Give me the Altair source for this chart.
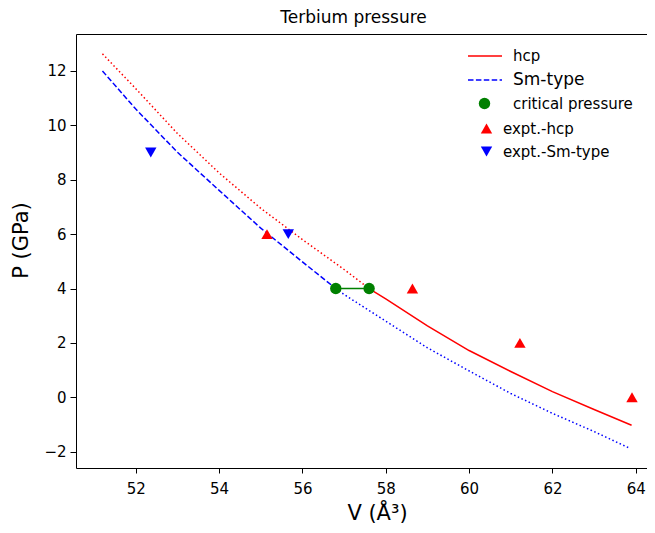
import altair as alt
import pandas as pd

# ---- data ----
hcp_v = [51.2, 52.0, 53.0, 54.0, 55.0, 56.0, 57.0, 57.6, 58.0, 59.0, 60.0, 61.0, 62.0, 63.0, 63.9]
hcp_p = [12.63, 11.35, 9.70, 8.25, 6.95, 5.80, 4.70, 4.00, 3.62, 2.63, 1.72, 0.95, 0.21, -0.45, -1.03]
hcp_split = 57.6  # dotted below this volume, solid above

sm_v = [51.2, 52.0, 53.0, 54.0, 55.0, 56.0, 56.8, 57.0, 58.0, 59.0, 60.0, 61.0, 62.0, 63.0, 63.85]
sm_p = [12.0, 10.6, 9.01, 7.61, 6.22, 4.98, 4.00, 3.78, 2.80, 1.82, 0.97, 0.14, -0.59, -1.26, -1.87]
sm_split = 56.8  # dashed below this volume, dotted above

crit_v = [56.8, 57.6]
crit_p = [4.0, 4.0]

expt_hcp_v = [55.15, 58.64, 61.22, 63.91]
expt_hcp_p = [6.0, 4.0, 2.0, 0.0]

expt_sm_v = [52.36, 55.66]
expt_sm_p = [9.0, 6.0]

x_ticks = [52, 54, 56, 58, 60, 62, 64]
y_ticks = [-2, 0, 2, 4, 6, 8, 10, 12]

RED, BLUE, GREEN = "#ff0000", "#0000ff", "#008000"
FONT = "DejaVu Sans"

# ---- tables ----
hcp = pd.DataFrame({"V": hcp_v, "P": hcp_p, "series": "hcp"})
sm = pd.DataFrame({"V": sm_v, "P": sm_p, "series": "Sm-type"})
crit = pd.DataFrame({"V": crit_v, "P": crit_p, "series": "critical pressure"})
e_hcp = pd.DataFrame({"V": expt_hcp_v, "P": expt_hcp_p, "series": "expt.-hcp"})
e_sm = pd.DataFrame({"V": expt_sm_v, "P": expt_sm_p, "series": "expt.-Sm-type"})

XDOM = [50.565, 64.27]
xs = alt.Scale(domain=XDOM, nice=False, zero=False)
ys = alt.Scale(domain=[-2.6, 13.36], nice=False, zero=False)

x_bottom = alt.X("V:Q", scale=xs, axis=alt.Axis(
    orient="bottom", values=x_ticks, title="V (Å³)", grid=False,
    tickSize=5, labelFontSize=15, labelPadding=8, labelFont=FONT,
    titleFont=FONT, titleFontSize=21, titleFontWeight="normal",
    titleX=301, titleY=45, titleBaseline="middle",
))
x_top = alt.X("V:Q", scale=xs, axis=alt.Axis(
    orient="top", labels=False, ticks=False, title=None, grid=False))
x_none = alt.X("V:Q", scale=xs, axis=None)
y_enc = alt.Y("P:Q", scale=ys, axis=alt.Axis(
    values=y_ticks, title="P (GPa)", grid=False,
    tickSize=6, labelFontSize=15, labelPadding=4, labelFont=FONT,
    titleFont=FONT, titleFontSize=21, titleFontWeight="normal",
    titleX=-55, titleY=206, titleBaseline="middle",
))
y_plain = alt.Y("P:Q", scale=ys)


def leg(x, y, size, offset, fs=15, stype=None):
    kw = dict(title=None, orient="none", legendX=x, legendY=y, direction="vertical",
              symbolSize=size, labelFont=FONT, labelFontSize=fs, labelColor="black",
              labelOffset=offset, padding=0)
    if stype:
        kw["symbolType"] = stype
        kw["symbolStrokeWidth"] = 1.5
    return alt.Legend(**kw)


def sc(name, rng):
    return alt.Scale(domain=[name], range=[rng])


# dotted extensions (first two layers carry the bottom and top axes)
hcp_dot = alt.Chart(hcp).transform_filter(alt.datum.V <= hcp_split).mark_line(
    strokeWidth=1.5, strokeDash=[1.5, 2.5], color=RED).encode(x=x_bottom, y=y_enc, order="V:Q")
sm_dot = alt.Chart(sm).transform_filter(alt.datum.V >= sm_split).mark_line(
    strokeWidth=1.5, strokeDash=[1.5, 2.5], color=BLUE).encode(x=x_top, y=y_plain, order="V:Q")

# main (legend) segments
l_hcp = leg(391, 4, 1156, 10, 15, "stroke")
hcp_main = alt.Chart(hcp).transform_filter(alt.datum.V >= hcp_split).mark_line(
    strokeWidth=1.5).encode(
    x=x_none, y=y_plain, order="V:Q",
    stroke=alt.Stroke("series:N", scale=sc("hcp", RED), legend=l_hcp),
)
l_sm = leg(391, 28, 1156, 10, 17, "stroke")
sm_main = alt.Chart(sm).transform_filter(alt.datum.V <= sm_split).mark_line(
    strokeWidth=1.5).encode(
    x=x_none, y=y_plain, order="V:Q",
    stroke=alt.Stroke("series:N", scale=sc("Sm-type", BLUE), legend=l_sm),
    strokeDash=alt.StrokeDash("series:N", scale=alt.Scale(domain=["Sm-type"], range=[[5.5, 2.4]]), legend=l_sm),
)

crit_line = alt.Chart(crit).mark_line(strokeWidth=1.5, color=GREEN).encode(
    x=x_none, y=y_plain)

l_c = leg(401, 62, 130, 21)
crit_pts = alt.Chart(crit).mark_point(filled=True, size=130, opacity=1).encode(
    x=x_none, y=y_plain,
    fill=alt.Fill("series:N", scale=sc("critical pressure", GREEN), legend=l_c),
    shape=alt.Shape("series:N", scale=sc("critical pressure", "circle"), legend=l_c),
)
l_h = leg(403, 87, 130, 9)
hcp_pts = alt.Chart(e_hcp).mark_point(filled=True, size=130, opacity=1).encode(
    x=x_none, y=y_plain,
    fill=alt.Fill("series:N", scale=sc("expt.-hcp", RED), legend=l_h),
    shape=alt.Shape("series:N", scale=sc("expt.-hcp", "triangle-up"), legend=l_h),
)
l_s = leg(403, 110, 130, 9)
sm_pts = alt.Chart(e_sm).mark_point(filled=True, size=130, opacity=1).encode(
    x=x_none, y=y_plain,
    fill=alt.Fill("series:N", scale=sc("expt.-Sm-type", BLUE), legend=l_s),
    shape=alt.Shape("series:N", scale=sc("expt.-Sm-type", "triangle-down"), legend=l_s),
)

chart = alt.layer(hcp_dot, sm_dot, hcp_main, sm_main, crit_line, crit_pts, hcp_pts, sm_pts).resolve_scale(
    stroke="independent", strokeDash="independent", fill="independent", shape="independent"
).resolve_axis(x="independent").properties(
    width=571, height=434,
    title=alt.TitleParams("Terbium pressure", font=FONT, fontSize=17, fontWeight="normal",
                          color="black", dx=-8, offset=7),
    autosize=alt.AutoSizeParams(type="none"),
    padding={"left": 68, "top": 26, "right": 0, "bottom": 57},
).configure_view(stroke=None).configure_axis(
    domainColor="black", tickColor="black", labelColor="black", titleColor="black",
    domainWidth=1, tickWidth=1,
)

chart.save("out.html", embed_options={"renderer": "svg", "actions": False})
